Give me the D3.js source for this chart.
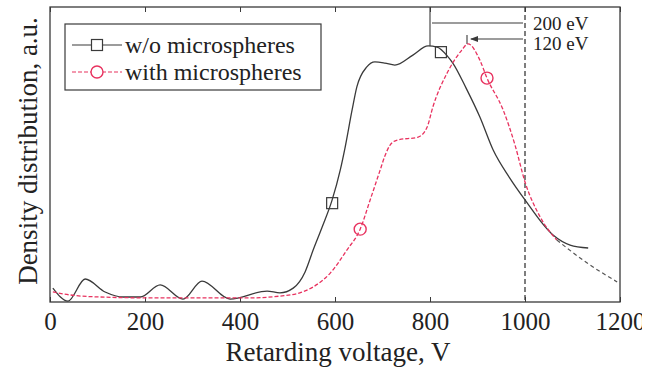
<!DOCTYPE html>
<html><head><meta charset="utf-8">
<script src="https://cdn.jsdelivr.net/npm/d3@7"></script>
<style>body{margin:0;background:#fff}svg{display:block}</style>
</head><body>
<script>
// Retarding voltage (V) and normalized density (a.u., 0-100)
const woVoltage = [6,38,74,116,154,190,232,280,320,379,457,484,512,537,554,573,594,611,621,636,646,667,684,705,726,764,796,815,838,848,876,905,933,968,1000,1059,1095,1133];
const woDensity = [4.7,0.3,7.8,3.4,1.7,1.7,5.8,1.0,7.1,1.0,3.7,3.1,4.7,10.2,17.6,25.4,34.6,44.7,52.2,65.1,72.9,79.7,81.4,81.0,80.3,83.7,86.8,86.4,83.1,81.0,72.5,62.7,51.5,42.0,34.6,22.7,19.3,18.3];
const withVoltage = [6,42,105,210,316,421,484,526,554,590,625,653,674,695,705,716,731,775,794,806,836,867,880,905,920,954,979,1000,1032,1067,1131,1194];
const withDensity = [3.4,2.4,1.7,1.4,1.4,1.4,2.0,3.1,5.1,9.8,17.6,24.7,34.6,44.7,49.5,53.2,54.9,55.9,59.3,66.1,77.6,85.4,87.5,82.0,75.9,65.1,53.2,40.7,28.8,21.0,13.2,6.8];
const woMarkers = [[594,33.5],[823,84.7]];
const withMarkers = [[653,24.7],[920,75.9]];
const xTicks = [0,200,400,600,800,1000,1200];
const seriesNames = ["w/o microspheres","with microspheres"];
const annotations = ["200 eV","120 eV"];
const xLabel = "Retarding voltage, V";
const yLabel = "Density distribution, a.u.";

const W = 654, H = 371;
const m = {l:50, r:620, t:7, b:302};
const svg = d3.select("body").append("svg").attr("width",W).attr("height",H);
svg.append("clipPath").attr("id","page").append("rect").attr("width",642).attr("height",H);
const root = svg.append("g").attr("clip-path","url(#page)");
const x = d3.scaleLinear().domain([0,1200]).range([m.l,m.r]);
const y = d3.scaleLinear().domain([0,100]).range([m.b,m.t]);
const font = "'Liberation Serif','Times New Roman',serif";
const black = "#3a3a3a", red = "#e8325f";

// frame
root.append("rect").attr("x",m.l).attr("y",m.t).attr("width",m.r-m.l).attr("height",m.b-m.t)
  .attr("fill","none").attr("stroke",black).attr("stroke-width",1.3);

// axes
const xb = root.append("g").attr("transform",`translate(0,${m.b})`)
  .call(d3.axisBottom(x).tickValues(xTicks).tickSize(-5).tickPadding(10).tickFormat(d3.format("d")));
xb.select(".domain").remove();
xb.selectAll("line").attr("stroke",black);
xb.selectAll("text").attr("font-family",font).attr("font-size",25).attr("fill","#222");
const xt = root.append("g").attr("transform",`translate(0,${m.t})`)
  .call(d3.axisTop(x).tickValues(xTicks).tickSize(-5).tickFormat(""));
xt.select(".domain").remove();
xt.selectAll("line").attr("stroke",black);

root.append("text").attr("x",(m.l+m.r)/2+3).attr("y",361).attr("text-anchor","middle")
  .attr("font-family",font).attr("font-size",27).attr("fill","#222").text(xLabel);
root.append("text").attr("transform",`translate(37,151) rotate(-90)`).attr("text-anchor","middle")
  .attr("font-family",font).attr("font-size",27).attr("fill","#222").text(yLabel);

// reference lines
root.append("line").attr("x1",x(1000)).attr("x2",x(1000)).attr("y1",m.t).attr("y2",m.b)
  .attr("stroke",black).attr("stroke-width",1.3).attr("stroke-dasharray","5,3");
root.append("line").attr("x1",x(800)).attr("x2",x(800)).attr("y1",m.t).attr("y2",y(86.8))
  .attr("stroke",black).attr("stroke-width",1.1);
root.append("line").attr("x1",x(800)+2).attr("x2",x(1000)-2).attr("y1",23).attr("y2",23)
  .attr("stroke",black).attr("stroke-width",1.1);
root.append("line").attr("x1",x(880)+3).attr("x2",x(1000)-2).attr("y1",39).attr("y2",39)
  .attr("stroke",black).attr("stroke-width",1.1);
root.append("path").attr("d",`M${x(880)+2},39 l8,-3 l0,6 z`).attr("fill",black);
root.append("line").attr("x1",x(880)-1).attr("x2",x(880)-1).attr("y1",35).attr("y2",44)
  .attr("stroke",black).attr("stroke-width",1.1);
root.append("text").attr("x",533).attr("y",30).attr("font-family",font).attr("font-size",19).attr("fill","#222").text(annotations[0]);
root.append("text").attr("x",533).attr("y",50).attr("font-family",font).attr("font-size",19).attr("fill","#222").text(annotations[1]);

// curves
const line = d3.line().x(d=>x(d[0])).y(d=>y(d[1])).curve(d3.curveMonotoneX);
const wo = woVoltage.map((v,i)=>[v,woDensity[i]]);
const wi = withVoltage.map((v,i)=>[v,withDensity[i]]);
root.append("path").attr("d",line(wo)).attr("fill","none").attr("stroke",black).attr("stroke-width",1.3);
root.append("path").attr("d",line(wi.filter(d=>d[0]<=1067))).attr("fill","none").attr("stroke",red)
  .attr("stroke-width",1.3).attr("stroke-dasharray","4,2");
root.append("path").attr("d",line(wi.filter(d=>d[0]>=1067))).attr("fill","none").attr("stroke","#555")
  .attr("stroke-width",1.2).attr("stroke-dasharray","4,3");

// markers
woMarkers.forEach(d=>{
  root.append("rect").attr("x",x(d[0])-5.5).attr("y",y(d[1])-5.5).attr("width",11).attr("height",11)
    .attr("fill","none").attr("stroke",black).attr("stroke-width",1.2);
});
withMarkers.forEach(d=>{
  root.append("circle").attr("cx",x(d[0])).attr("cy",y(d[1])).attr("r",6)
    .attr("fill","none").attr("stroke",red).attr("stroke-width",1.4);
});

// legend
const lg = root.append("g");
lg.append("rect").attr("x",65).attr("y",24).attr("width",256).attr("height",66)
  .attr("fill","#fff").attr("stroke",black).attr("stroke-width",1.2);
lg.append("line").attr("x1",72).attr("x2",122).attr("y1",45).attr("y2",45).attr("stroke",black).attr("stroke-width",1.2);
lg.append("rect").attr("x",91.5).attr("y",39.5).attr("width",11).attr("height",11).attr("fill","#fff").attr("stroke",black).attr("stroke-width",1.2);
lg.append("line").attr("x1",72).attr("x2",122).attr("y1",72).attr("y2",72).attr("stroke",red).attr("stroke-width",1.2).attr("stroke-dasharray","4,2");
lg.append("circle").attr("cx",97).attr("cy",72).attr("r",6).attr("fill","#fff").attr("stroke",red).attr("stroke-width",1.4);
lg.append("text").attr("x",125).attr("y",53).attr("font-family",font).attr("font-size",24).attr("fill","#222").text(seriesNames[0]);
lg.append("text").attr("x",125).attr("y",80).attr("font-family",font).attr("font-size",24).attr("fill","#222").text(seriesNames[1]);
</script>
</body></html>
